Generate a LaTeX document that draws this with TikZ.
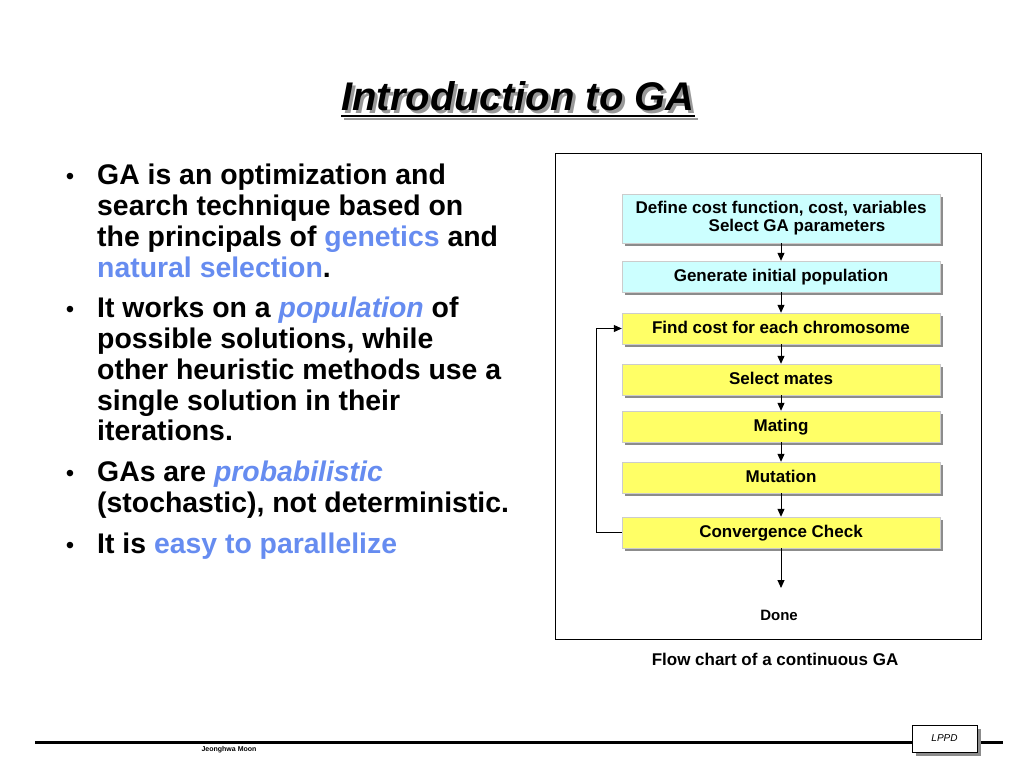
\documentclass[tikz,border=0pt]{standalone}
\usepackage{fontspec}
\setmainfont{Liberation Sans}
\usetikzlibrary{arrows.meta,shadows}

\definecolor{gablue}{HTML}{668CF0}
\definecolor{gacyan}{HTML}{CCFFFF}
\definecolor{gayellow}{HTML}{FFFF66}

\tikzset{
  linetext/.style={anchor=base west, inner sep=0pt, font=\fontsize{28.4}{31}\selectfont\bfseries},
  bulletdot/.style={anchor=base, inner sep=0pt, font=\fontsize{24}{31}\selectfont},
  flowbox/.style={draw=black!20, thin, minimum width=318pt, minimum height=31pt, inner sep=0pt,
    font=\fontsize{17}{18}\selectfont\bfseries, align=center,
    drop shadow={shadow xshift=3pt, shadow yshift=-3pt, fill=black!45, opacity=1}},
  flowarrow/.style={-{Triangle[length=8pt,width=7pt]}, line width=1pt},
}

\begin{document}
\begin{tikzpicture}[x=1pt, y=-1pt]
  \useasboundingbox (0,0) rectangle (1024,768);

  % Title with its shadow
  \node[anchor=base, inner sep=0pt, text=black!40, font=\fontsize{40}{44}\selectfont\bfseries\itshape] (titleshadow) at (521,113) {Introduction to GA};
  \draw[black!40, line width=2pt] ([yshift=-6pt]titleshadow.base west) -- ([yshift=-6pt]titleshadow.base east);
  \node[anchor=base, inner sep=0pt, font=\fontsize{40}{44}\selectfont\bfseries\itshape] (title) at (518,110) {Introduction to GA};
  \draw[line width=2pt] ([yshift=-6pt]title.base west) -- ([yshift=-6pt]title.base east);

  % Bullet points on the left
  \foreach \y in {184,317,481,553}
    \node[bulletdot] (dot\y) at (70,\y) {•};

  \node[linetext] (l1) at (97,184) {GA is an optimization and};
  \node[linetext] (l2) at (97,215) {search technique based on};
  \node[linetext] (l3) at (97,246) {the principals of \textcolor{gablue}{genetics} and};
  \node[linetext] (l4) at (97,277) {\textcolor{gablue}{natural selection}.};
  \node[linetext] (l5) at (97,317) {It works on a \textcolor{gablue}{\itshape population} of};
  \node[linetext] (l6) at (97,348) {possible solutions, while};
  \node[linetext] (l7) at (97,379) {other heuristic methods use a};
  \node[linetext] (l8) at (97,410) {single solution in their};
  \node[linetext] (l9) at (97,440) {iterations.};
  \node[linetext] (l10) at (97,481) {GAs are \textcolor{gablue}{\itshape probabilistic}};
  \node[linetext] (l11) at (97,512) {(stochastic), not deterministic.};
  \node[linetext] (l12) at (97,553) {It is \textcolor{gablue}{easy to parallelize}};

  % Frame round the flow chart
  \draw[line width=0.8pt] (555,153) rectangle (981,639);

  % Flow chart boxes
  \node[flowbox, fill=gacyan, minimum height=49pt] (define) at (781,218.5)
    {Define cost function, cost, variables\\\hspace*{32pt}Select GA parameters};
  \node[flowbox, fill=gacyan, text height=12pt, text depth=2pt] (generate) at (781,276.5) {Generate initial population};
  \node[flowbox, fill=gayellow, text height=12pt, text depth=2pt] (findcost) at (781,328.5) {Find cost for each chromosome};
  \node[flowbox, fill=gayellow, text height=12pt, text depth=2pt] (select) at (781,379.5) {Select mates};
  \node[flowbox, fill=gayellow, text height=12pt, text depth=2pt] (mating) at (781,426.5) {Mating};
  \node[flowbox, fill=gayellow, text height=12pt, text depth=2pt] (mutation) at (781,477.5) {Mutation};
  \node[flowbox, fill=gayellow, text height=12pt, text depth=2pt] (converge) at (781,532.5) {Convergence Check};
  \node[inner sep=0pt, font=\fontsize{15}{16}\selectfont\bfseries] (done) at (779,615) {Done};

  % Arrows down the chain
  \foreach \a/\b in {define/generate, generate/findcost, findcost/select, select/mating, mating/mutation, mutation/converge}
    \draw[flowarrow] (\a.south -| define) -- (\b.north -| define);
  \coordinate (stop) at (781,588);
  \draw[flowarrow] (converge.south) -- (stop);

  % Loop back from the check to the cost
  \draw[flowarrow] (converge.west) -- ++(-25,0) |- (findcost.west);

  % Caption
  \node[inner sep=0pt, font=\fontsize{17}{18}\selectfont\bfseries] (caption) at (775,659) {Flow chart of a continuous GA};

  % Footer
  \draw[line width=3pt] (35,742) -- (1003,742);
  \node[draw, thin, fill=white, minimum width=65pt, minimum height=27pt, inner sep=0pt,
    font=\fontsize{10}{11}\selectfont\itshape,
    drop shadow={shadow xshift=4pt, shadow yshift=-4pt, fill=black!45, opacity=1}] (lppd) at (944.5,738.5) {LPPD};
  \node[inner sep=0pt, font=\fontsize{7}{8}\selectfont\bfseries] (author) at (229,750) {Jeonghwa Moon};
\end{tikzpicture}
\end{document}
